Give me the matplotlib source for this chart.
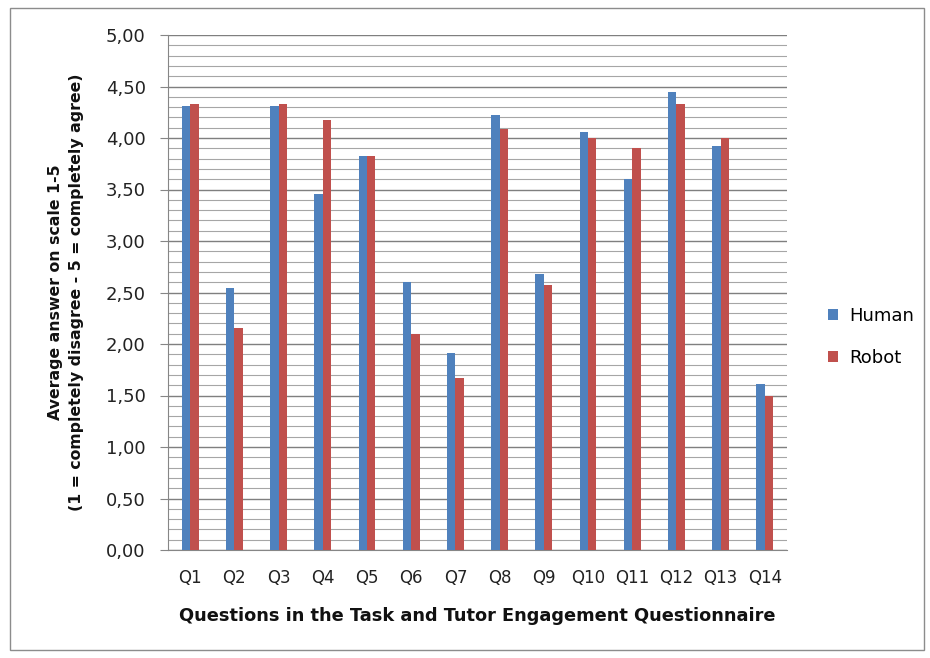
import numpy as np
import matplotlib.pyplot as plt
from matplotlib.patches import Rectangle
from matplotlib.ticker import MultipleLocator, FuncFormatter

questions = ["Q1", "Q2", "Q3", "Q4", "Q5", "Q6", "Q7", "Q8", "Q9", "Q10", "Q11", "Q12", "Q13", "Q14"]
human = [4.31, 2.54, 4.31, 3.46, 3.83, 2.60, 1.91, 4.22, 2.68, 4.06, 3.60, 4.45, 3.92, 1.61]
robot = [4.33, 2.16, 4.33, 4.17, 3.83, 2.10, 1.67, 4.09, 2.57, 4.00, 3.90, 4.33, 4.00, 1.50]

plt.rcParams['font.family'] = ['DejaVu Sans']

fig = plt.figure(figsize=(9.3, 6.58), dpi=100)
# Outer chart border
fig.patches.append(Rectangle((0.011, 0.012), 0.983, 0.976, transform=fig.transFigure,
                             fill=False, edgecolor="#8c8c8c", linewidth=1))

ax = fig.add_axes([168 / 930, 108 / 658, 619 / 930, 515 / 658])
x = np.arange(len(questions))
w = 0.19
ax.bar(x - w / 2, human, w, color="#4F81BD", label="Human", zorder=3)
ax.bar(x + w / 2, robot, w, color="#C0504D", label="Robot", zorder=3)

ax.set_ylim(0, 5)
ax.set_xlim(-0.5, len(questions) - 0.5)
ax.yaxis.set_major_locator(MultipleLocator(0.5))
ax.yaxis.set_minor_locator(MultipleLocator(0.1))
ax.yaxis.set_major_formatter(FuncFormatter(lambda v, p: "{:.2f}".format(v).replace(".", ",")))
ax.grid(axis="y", which="major", color="#7f7f7f", linewidth=1.0, zorder=0)
ax.grid(axis="y", which="minor", color="#a6a6a6", linewidth=0.8, zorder=0)

ax.set_xticks(x)
ax.set_xticklabels(questions)
ax.tick_params(axis="x", length=0, labelsize=12, pad=14, labelcolor="#222222")
ax.tick_params(axis="y", which="major", length=6, color="#868686", labelsize=13,
               labelcolor="#222222", pad=10)
ax.tick_params(axis="y", which="minor", length=0)

for s in ["top", "right"]:
    ax.spines[s].set_visible(False)
ax.spines["left"].set_color("#868686")
ax.spines["bottom"].set_color("#868686")

ax.set_xlabel("Questions in the Task and Tutor Engagement Questionnaire",
              fontsize=12.8, fontweight="bold", labelpad=14, color="#111111")
ax.set_ylabel("Average answer on scale 1-5\n(1 = completely disagree - 5 = completely agree)",
              fontsize=11.3, fontweight="bold", labelpad=16, linespacing=1.5, color="#111111")

ax.legend(loc="center left", bbox_to_anchor=(1.04, 0.414), frameon=False,
          fontsize=13, handlelength=0.55, handleheight=0.55, handletextpad=0.6,
          labelspacing=1.3)

fig.savefig("out.png", dpi=100)
